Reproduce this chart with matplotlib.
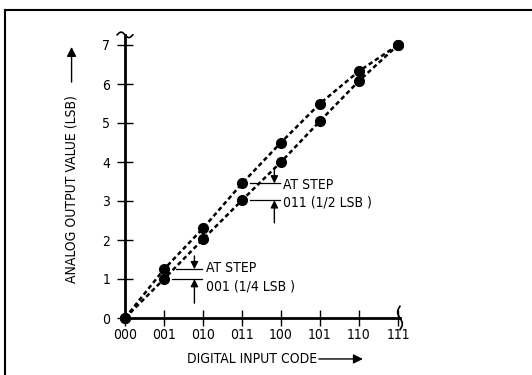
import numpy as np
import matplotlib
matplotlib.use('Agg')
import matplotlib.pyplot as plt
from matplotlib.lines import Line2D

plt.rcParams['font.family'] = ['DejaVu Sans']
plt.rcParams['font.stretch'] = 'condensed'
plt.rcParams['lines.scale_dashes'] = False

# данные: коды и выходные уровни двух характеристик
codes = ['000', '001', '010', '011', '100', '101', '110', '111']
y_ticks = [0, 1, 2, 3, 4, 5, 6, 7]
upper = [0, 1.25, 2.3, 3.45, 4.5, 5.5, 6.33, 7]
lower = [0, 1.0, 2.02, 3.02, 4.0, 5.05, 6.08, 7]

x = np.arange(len(codes))
FS = 10

fig = plt.figure(figsize=(5.32, 3.75), dpi=100)
ax = fig.add_axes([125 / 532, 57 / 375, 7.05 * 39 / 532, 7.26 * 39 / 375])

for series in (upper, lower):
    ax.plot(x, series, color='black', lw=1.8, ls=(0, (3.2, 2.2)),
            marker='o', ms=7, clip_on=False, zorder=3)

ax.set_xlim(0, 7.05)
ax.set_ylim(0, 7.26)
ax.spines['top'].set_visible(False)
ax.spines['right'].set_visible(False)
ax.spines['left'].set_linewidth(2)
ax.spines['bottom'].set_linewidth(2)

ax.set_xticks(x)
ax.set_xticklabels(codes)
ax.set_yticks(y_ticks)
ax.tick_params(direction='inout', length=11, width=1, labelsize=FS)
ax.tick_params(axis='x', pad=1.5)
ax.tick_params(axis='y', pad=5)

# разрывы осей
t = np.linspace(0, 1, 40)
ax.plot(-0.2 + 0.4 * t, 7.26 + 0.07 * np.sin(2 * np.pi * t), color='black',
        lw=1.2, clip_on=False)
ax.plot(7.05 + 0.06 * np.sin(2 * np.pi * t), -0.3 + 0.6 * t, color='black',
        lw=1.2, clip_on=False)

# подписи осей со стрелками
ax.text(-1.37, 5.72, 'ANALOG OUTPUT VALUE (LSB)', rotation=90, fontsize=FS,
        ha='center', va='top')
ax.annotate('', xy=(-1.37, 6.95), xytext=(-1.37, 6.05), annotation_clip=False,
            arrowprops=dict(arrowstyle='-|>', color='black', lw=1,
                            mutation_scale=14, shrinkA=0, shrinkB=0))
ax.text(4.92, -1.05, 'DIGITAL INPUT CODE', fontsize=FS, ha='right', va='center')
ax.annotate('', xy=(6.1, -1.05), xytext=(4.97, -1.05), annotation_clip=False,
            arrowprops=dict(arrowstyle='-|>', color='black', lw=1,
                            mutation_scale=14, shrinkA=0, shrinkB=0))

# выноски со ступенями
arrow = dict(arrowstyle='-|>', color='black', lw=1, mutation_scale=11,
             shrinkA=0, shrinkB=0)


def step_note(i, x_up, x_low, x_end, x_arr, y_top, y_bot, x_txt, y_t1, y_t2, label):
    hi, lo = upper[i], lower[i]
    ax.plot([x_up, x_end], [hi, hi], color='black', lw=0.9, clip_on=False)
    ax.plot([x_low, x_end], [lo, lo], color='black', lw=0.9, clip_on=False)
    ax.annotate('', xy=(x_arr, hi), xytext=(x_arr, y_top), arrowprops=arrow)
    ax.annotate('', xy=(x_arr, lo), xytext=(x_arr, y_bot), arrowprops=arrow)
    ax.text(x_txt, y_t1, 'AT STEP', fontsize=FS, va='center')
    ax.text(x_txt, y_t2, label, fontsize=FS, va='center')


step_note(1, 1.31, 1.2, 1.97, 1.78, 1.59, 0.38, 2.08, 1.27, 0.8, '001 (1/4 LSB )')
step_note(3, 3.2, 3.2, 3.97, 3.83, 3.85, 2.44, 4.05, 3.41, 2.97, '011 (1/2 LSB )')

# рамка
fig.add_artist(Line2D([5 / 532, 5 / 532], [0, 1 - 10 / 375], color='black',
                      lw=1.5, transform=fig.transFigure))
fig.add_artist(Line2D([5 / 532, 1], [1 - 10 / 375, 1 - 10 / 375], color='black',
                      lw=1.5, transform=fig.transFigure))

fig.savefig('out.png', dpi=100)
